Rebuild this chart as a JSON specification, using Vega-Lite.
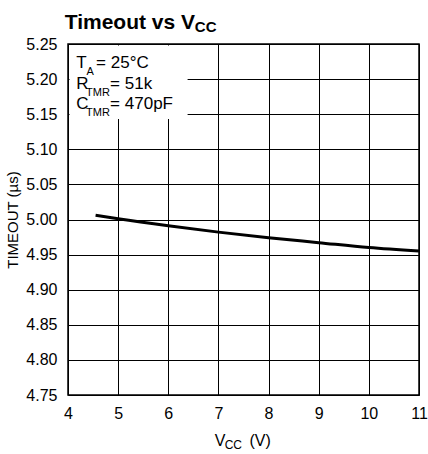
{
  "$schema": "https://vega.github.io/schema/vega-lite/v6.json",
  "width": 351,
  "height": 351,
  "autosize": {"type": "none"},
  "padding": {"left": 68, "top": 44, "right": 9, "bottom": 59},
  "background": "white",
  "config": {
    "view": {"stroke": "black", "strokeWidth": 1.5},
    "font": "Liberation Sans",
    "text": {"font": "Liberation Sans", "color": "black"},
    "axis": {
      "grid": true, "gridColor": "black", "gridWidth": 1, "gridOpacity": 1,
      "domain": false, "ticks": false, "labelOverlap": false,
      "labelFont": "Liberation Sans", "labelFontSize": 16, "labelColor": "black",
      "titleFont": "Liberation Sans", "titleFontSize": 15, "titleFontWeight": "normal", "titleColor": "black"
    }
  },
  "datasets": {
    "curve": [
      {"vcc": 4.55, "timeout": 5.006},
      {"vcc": 5, "timeout": 5.001},
      {"vcc": 6, "timeout": 4.991},
      {"vcc": 7, "timeout": 4.982},
      {"vcc": 8, "timeout": 4.974},
      {"vcc": 9, "timeout": 4.967},
      {"vcc": 10, "timeout": 4.960},
      {"vcc": 11, "timeout": 4.955}
    ],
    "one": [{"k": 1}]
  },
  "data": {"name": "one"},
  "resolve": {"axis": {"x": "independent", "y": "independent"}},
  "layer": [
    {"data": {"name": "curve"},
      "mark": {"type": "line", "color": "black", "strokeWidth": 3, "interpolate": "monotone"},
      "encoding": {
        "x": {"field": "vcc", "type": "quantitative",
          "scale": {"domain": [4, 11], "nice": false, "zero": false},
          "axis": {"values": [4, 5, 6, 7, 8, 9, 10, 11], "labelPadding": 10, "title": null, "labelFlush": false}},
        "y": {"field": "timeout", "type": "quantitative",
          "scale": {"domain": [4.75, 5.25], "nice": false, "zero": false},
          "axis": {"values": [4.75, 4.8, 4.85, 4.9, 4.95, 5.0, 5.05, 5.1, 5.15, 5.2, 5.25], "format": ".2f", "labelPadding": 11, "title": "TIMEOUT (µs)", "titlePadding": 5, "labelFlush": false}}
      }},
    {"mark": {"type": "rect", "fill": "white"},
      "encoding": {"x": {"datum": 4.03, "axis": null}, "x2": {"datum": 6.385}, "y": {"datum": 5.248, "axis": null}, "y2": {"datum": 5.143}}},
    {"mark": {"type": "text", "text": "T", "align": "left", "baseline": "alphabetic", "fontSize": 17},
      "encoding": {"x": {"datum": 4.167, "axis": null}, "y": {"datum": 5.2158, "axis": null}}},
    {"mark": {"type": "text", "text": "A", "align": "left", "baseline": "alphabetic", "fontSize": 11},
      "encoding": {"x": {"datum": 4.367, "axis": null}, "y": {"datum": 5.2058, "axis": null}}},
    {"mark": {"type": "text", "text": "= 25°C", "align": "left", "baseline": "alphabetic", "fontSize": 17},
      "encoding": {"x": {"datum": 4.56, "axis": null}, "y": {"datum": 5.2158, "axis": null}}},
    {"mark": {"type": "text", "text": "R", "align": "left", "baseline": "alphabetic", "fontSize": 17},
      "encoding": {"x": {"datum": 4.167, "axis": null}, "y": {"datum": 5.1859, "axis": null}}},
    {"mark": {"type": "text", "text": "TMR", "align": "left", "baseline": "alphabetic", "fontSize": 11},
      "encoding": {"x": {"datum": 4.36, "axis": null}, "y": {"datum": 5.1759, "axis": null}}},
    {"mark": {"type": "text", "text": "= 51k", "align": "left", "baseline": "alphabetic", "fontSize": 17},
      "encoding": {"x": {"datum": 4.84, "axis": null}, "y": {"datum": 5.1859, "axis": null}}},
    {"mark": {"type": "text", "text": "C", "align": "left", "baseline": "alphabetic", "fontSize": 17},
      "encoding": {"x": {"datum": 4.167, "axis": null}, "y": {"datum": 5.1574, "axis": null}}},
    {"mark": {"type": "text", "text": "TMR", "align": "left", "baseline": "alphabetic", "fontSize": 11},
      "encoding": {"x": {"datum": 4.36, "axis": null}, "y": {"datum": 5.1474, "axis": null}}},
    {"mark": {"type": "text", "text": "= 470pF", "align": "left", "baseline": "alphabetic", "fontSize": 17},
      "encoding": {"x": {"datum": 4.84, "axis": null}, "y": {"datum": 5.1574, "axis": null}}},
    {"mark": {"type": "text", "text": "Timeout vs V", "align": "left", "baseline": "alphabetic", "fontSize": 21, "fontWeight": "bold"},
      "encoding": {"x": {"datum": 3.934, "axis": null}, "y": {"datum": 5.272, "axis": null}}},
    {"mark": {"type": "text", "text": "CC", "align": "left", "baseline": "alphabetic", "fontSize": 15, "fontWeight": "bold"},
      "encoding": {"x": {"datum": 6.53, "axis": null}, "y": {"datum": 5.2678, "axis": null}}},
    {"mark": {"type": "text", "text": "V", "align": "left", "baseline": "alphabetic", "fontSize": 16},
      "encoding": {"x": {"datum": 6.926, "axis": null}, "y": {"datum": 4.6773, "axis": null}}},
    {"mark": {"type": "text", "text": "CC", "align": "left", "baseline": "alphabetic", "fontSize": 12},
      "encoding": {"x": {"datum": 7.125, "axis": null}, "y": {"datum": 4.673, "axis": null}}},
    {"mark": {"type": "text", "text": "(V)", "align": "left", "baseline": "alphabetic", "fontSize": 16},
      "encoding": {"x": {"datum": 7.62, "axis": null}, "y": {"datum": 4.6773, "axis": null}}}
  ]
}
